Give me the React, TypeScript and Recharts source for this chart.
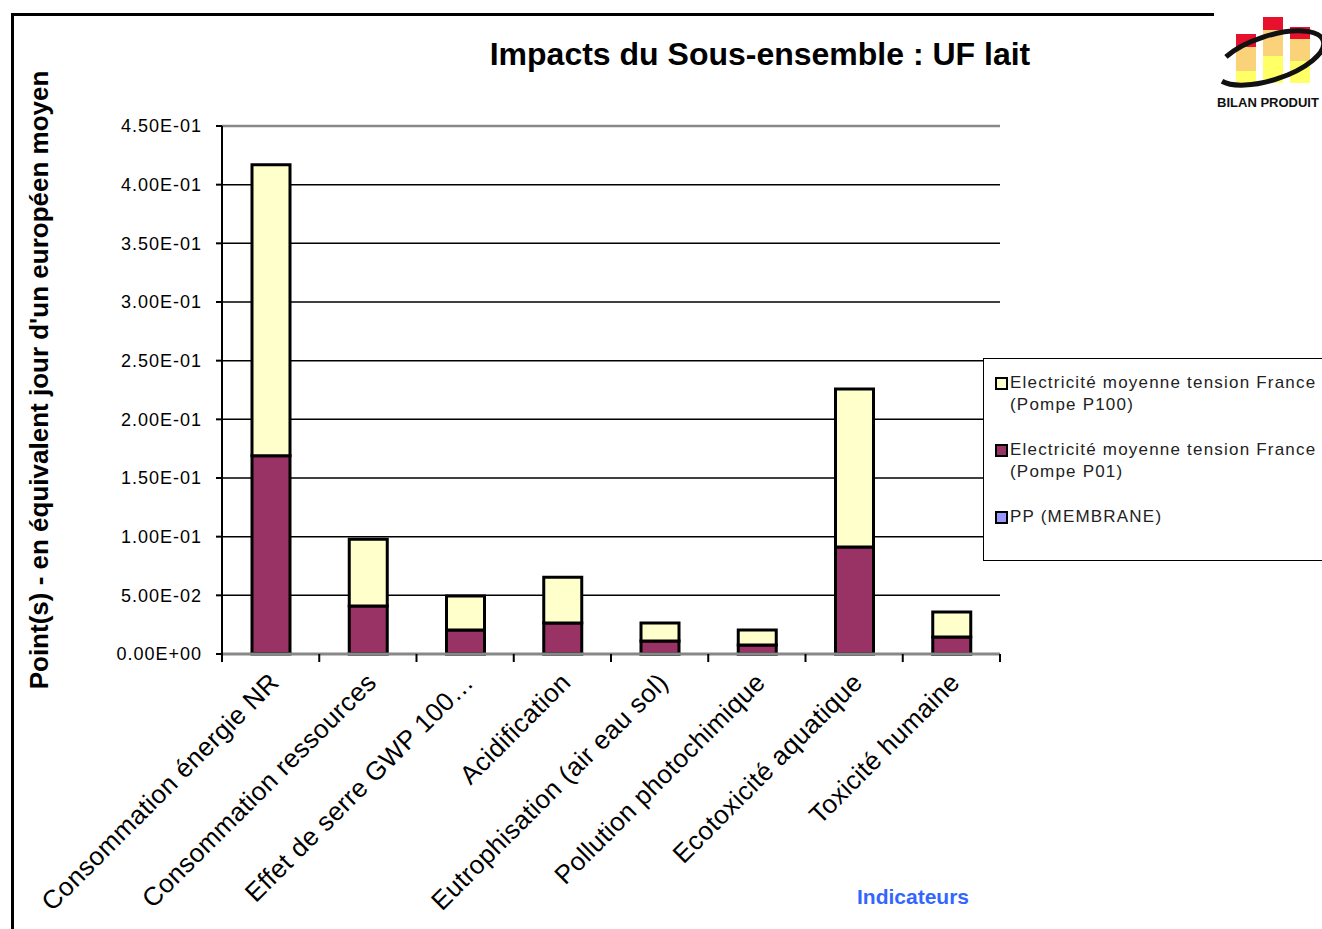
import React from 'react'
import {
  BarChart, Bar, XAxis, YAxis, CartesianGrid, Legend, ReferenceLine, Label
} from 'recharts'

const categories = [
  'Consommation énergie NR',
  'Consommation ressources',
  'Effet de serre GWP 100…',
  'Acidification',
  'Eutrophisation (air eau sol)',
  'Pollution photochimique',
  'Ecotoxicité aquatique',
  'Toxicité humaine',
]
const ppMembrane = [0.0004, 0.0003, 0.0002, 0.0002, 0.0001, 0.0001, 0.0003, 0.0001]
const pompeP01 = [0.1685, 0.0406, 0.0203, 0.0262, 0.0109, 0.0076, 0.0909, 0.0144]
const pompeP100 = [0.248, 0.057, 0.029, 0.039, 0.0154, 0.0128, 0.1346, 0.0213]
const yTicks = [0, 0.05, 0.1, 0.15, 0.2, 0.25, 0.3, 0.35, 0.4, 0.45]

const seriesNames = {
  p100: 'Electricité moyenne tension France (Pompe P100)',
  p01: 'Electricité moyenne tension France (Pompe P01)',
  pp: 'PP (MEMBRANE)',
}

const data = categories.map((name, i) => ({
  name,
  pp: ppMembrane[i],
  p01: pompeP01[i],
  p100: pompeP100[i],
}))

const FONT = '"Liberation Sans", Arial, sans-serif'

function sci(v: number) {
  if (v === 0) return '0.00E+00'
  const [m, e] = v.toExponential(2).split('e')
  const n = parseInt(e, 10)
  return `${m}E${n < 0 ? '-' : '+'}${String(Math.abs(n)).padStart(2, '0')}`
}

const CategoryTick = (props: any) => {
  const { x, y, payload, index } = props
  const half = payload && payload.offset ? payload.offset : 48.6
  return (
    <g>
      <line x1={x - half} x2={x - half} y1={y - 8} y2={y} stroke="#000" strokeWidth={2} />
      {index === categories.length - 1 && (
        <line x1={x + half} x2={x + half} y1={y - 8} y2={y} stroke="#000" strokeWidth={2} />
      )}
      <text
        x={x + 10}
        y={y + 22}
        textAnchor="end"
        transform={`rotate(-45 ${x + 10} ${y + 22})`}
        fontSize={26}
        letterSpacing={0.4}
        fontFamily={FONT}
        fill="#000"
      >
        {payload.value}
      </text>
    </g>
  )
}

const YTitle = (props: any) => {
  const vb = props.viewBox || { y: 126, height: 528 }
  const cy = vb.y + vb.height / 2 - 10
  return (
    <text
      x={48}
      y={cy}
      transform={`rotate(-90 48 ${cy})`}
      textAnchor="middle"
      fontFamily={FONT}
      fontWeight="bold"
      fontSize={26}
      fill="#000"
    >
      Point(s)  - en équivalent jour d'un européen moyen
    </text>
  )
}

const LegendBox = () => {
  const items = [
    { color: '#FFFFCC', lines: ['Electricité moyenne tension France', '(Pompe P100)'] },
    { color: '#993366', lines: ['Electricité moyenne tension France', '(Pompe P01)'] },
    { color: '#9999FF', lines: ['PP (MEMBRANE)'] },
  ]
  return (
    <div
      style={{
        width: 345, height: 203, border: '1px solid #000', background: '#fff',
        boxSizing: 'border-box', padding: '13px 0 0 11px', fontFamily: FONT, fontSize: 17,
        color: '#222', letterSpacing: 1.2, textAlign: 'left', whiteSpace: 'nowrap',
      }}
    >
      {items.map((it, i) => (
        <div key={i} style={{ display: 'flex', marginBottom: 23, lineHeight: '22px' }}>
          <div style={{ width: 9, height: 9, border: '2px solid #000', background: it.color, marginTop: 5, marginRight: 2, flexShrink: 0 }} />
          <div>{it.lines.map((l, j) => <div key={j}>{l}</div>)}</div>
        </div>
      ))}
    </div>
  )
}

const Logo = () => (
  <svg width={112} height={112} style={{ position: 'absolute', left: 1212, top: 12 }}>
    <rect x={24} y={35} width={20} height={24} fill="#FAD27A" />
    <rect x={24} y={59} width={20} height={12} fill="#FFFF66" />
    <rect x={24} y={22} width={20} height={13} fill="#E8112D" />
    <rect x={51} y={18} width={20} height={26} fill="#FAD27A" />
    <rect x={51} y={44} width={20} height={27} fill="#FFFF66" />
    <rect x={51} y={5} width={20} height={13} fill="#E8112D" />
    <rect x={78} y={27} width={20} height={22} fill="#FAD27A" />
    <rect x={78} y={49} width={20} height={22} fill="#FFFF66" />
    <rect x={78} y={15} width={20} height={12} fill="#E8112D" />
    <ellipse cx={58} cy={46} rx={56} ry={22} fill="none" stroke="#111" strokeWidth={5} transform="rotate(-18 58 46)" strokeDasharray="120 30" />
    <text x={56} y={95} textAnchor="middle" fontFamily={FONT} fontWeight="bold" fontSize={13} fill="#111">BILAN PRODUIT</text>
  </svg>
)

export default function App() {
  return (
    <div style={{ position: 'absolute', left: 0, top: 0, width: 1322, height: 929, background: '#fff', overflow: 'hidden' }}>
      <div style={{ position: 'absolute', left: 11, top: 13, width: 1200, height: 940, borderTop: '3px solid #000', borderLeft: '3px solid #000' }} />
      <div style={{ position: 'absolute', left: 0, top: 36, width: 1520, textAlign: 'center', fontFamily: FONT, fontWeight: 'bold', fontSize: 32, color: '#000' }}>
        Impacts du Sous-ensemble : UF lait
      </div>
      <Logo />
      <BarChart
        width={1322}
        height={929}
        data={data}
        margin={{ top: 126, right: 322, bottom: 0, left: 60 }}
        barSize={38}
        style={{ fontFamily: FONT }}
      >
        <CartesianGrid vertical={false} stroke="#000" strokeWidth={1.5} />
        <ReferenceLine y={0.45} stroke="#888" strokeWidth={2.5} />
        <XAxis
          dataKey="name"
          interval={0}
          stroke="#888"
          strokeWidth={3}
          tickLine={false}
          tick={<CategoryTick />}
          height={275}
        >
          <Label value="Indicateurs" position="insideBottom" offset={25} dx={302} fill="#3366FF" fontWeight="bold" fontSize={21} />
        </XAxis>
        <YAxis
          domain={[0, 0.45]}
          ticks={yTicks}
          tickFormatter={sci}
          stroke="#000"
          strokeWidth={2}
          tickSize={6}
          tickMargin={14}
          width={162}
          tick={{ fill: '#000', fontSize: 18, letterSpacing: 1 }}
        >
          <Label content={<YTitle />} />
        </YAxis>
        <YAxis yAxisId="right" orientation="right" width={0} tick={false} tickLine={false} stroke="#888" strokeWidth={2.5} />
        <Legend
          layout="horizontal"
          align="center"
          verticalAlign="middle"
          content={() => <LegendBox />}
          wrapperStyle={{ left: 983, top: 358, width: 345 }}
        />
        <Bar dataKey="pp" name={seriesNames.pp} stackId="s" fill="#9999FF" stroke="#000" strokeWidth={3} isAnimationActive={false} />
        <Bar dataKey="p01" name={seriesNames.p01} stackId="s" fill="#993366" stroke="#000" strokeWidth={3} isAnimationActive={false} />
        <Bar dataKey="p100" name={seriesNames.p100} stackId="s" fill="#FFFFCC" stroke="#000" strokeWidth={3} isAnimationActive={false} />
      </BarChart>
    </div>
  )
}
